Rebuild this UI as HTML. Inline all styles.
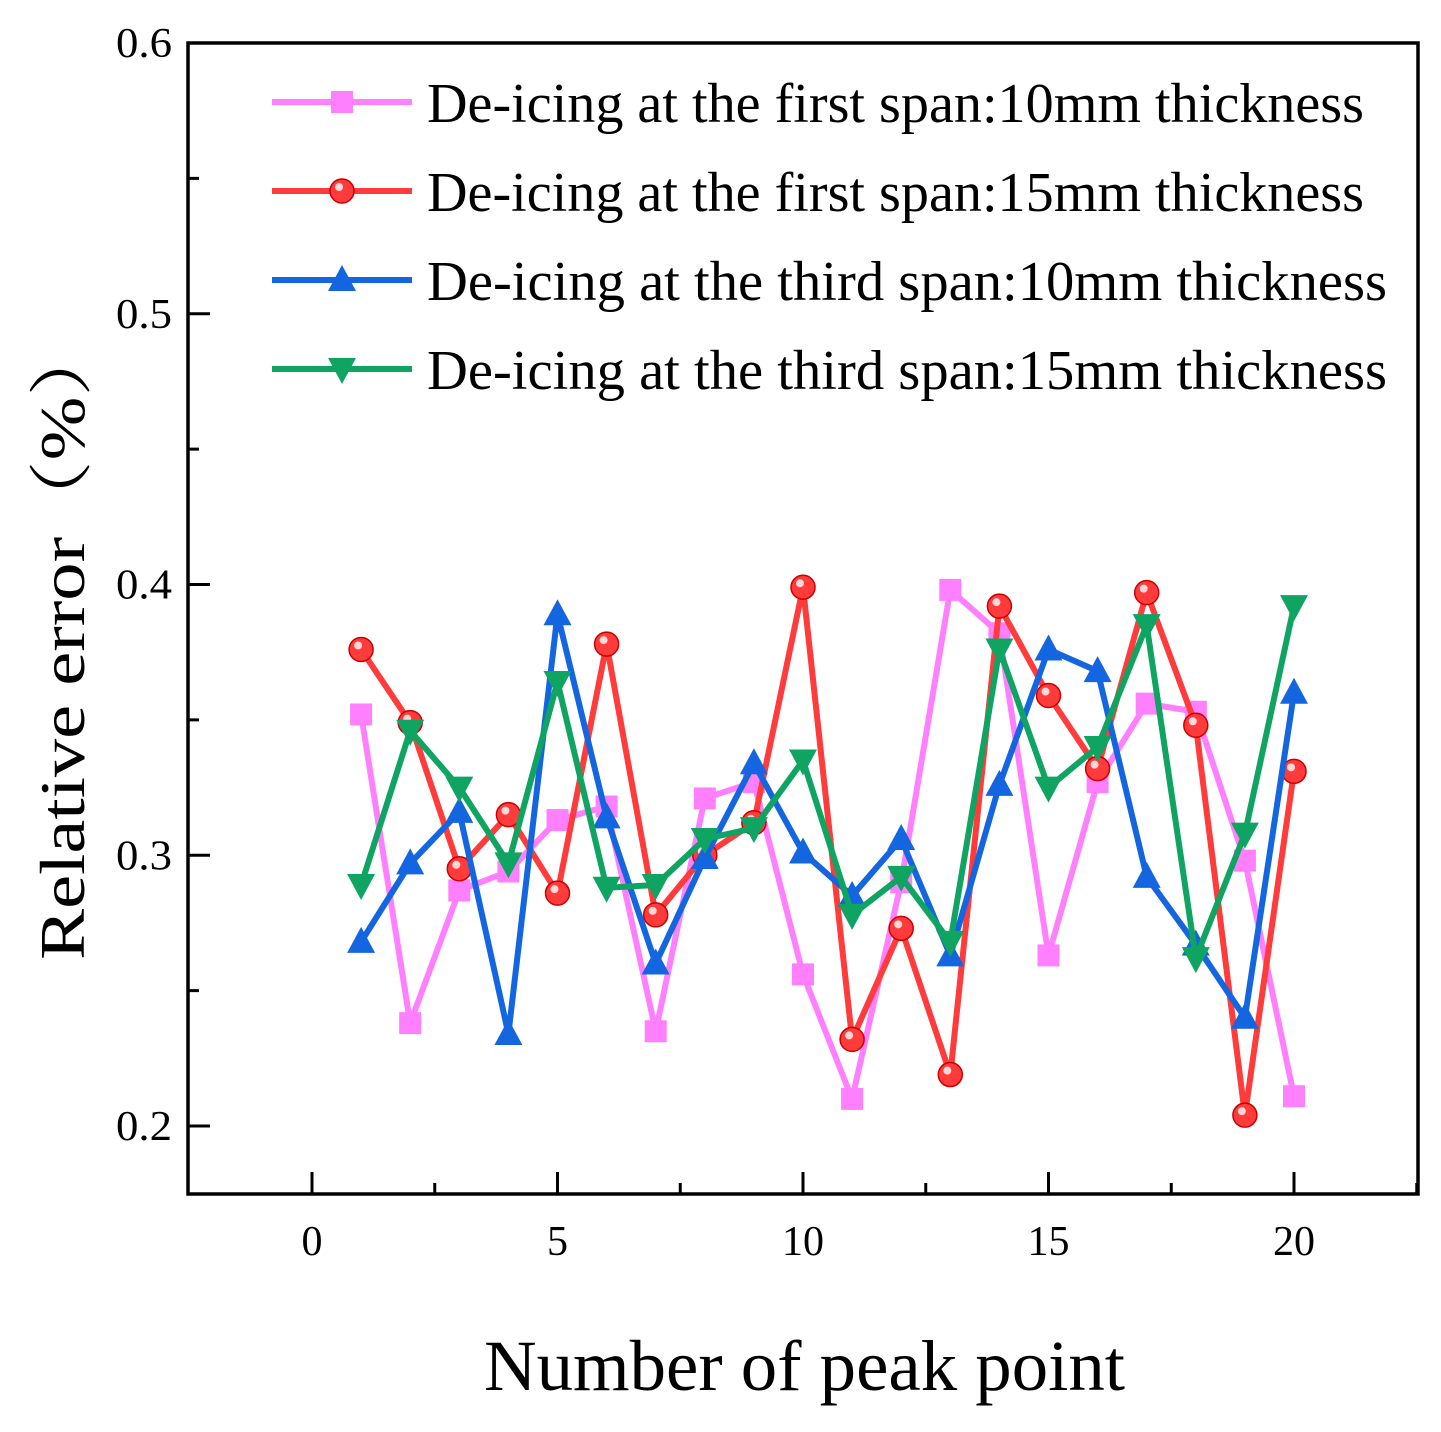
<!DOCTYPE html>
<html><head><meta charset="utf-8"><style>body{margin:0;background:#fff}svg{display:block}</style></head>
<body>
<svg id="chart" width="1441" height="1432" viewBox="0 0 1441 1432" xmlns="http://www.w3.org/2000/svg" font-family="'Liberation Serif', serif"></svg>
<script>
const xs=[1,2,3,4,5,6,7,8,9,10,11,12,13,14,15,16,17,18,19,20];
const pinkVals=[0.352,0.238,0.287,0.294,0.313,0.318,0.235,0.321,0.327,0.256,0.210,0.290,0.398,0.382,0.263,0.327,0.356,0.353,0.298,0.211];
const redVals=[0.376,0.349,0.295,0.315,0.286,0.378,0.278,0.300,0.312,0.399,0.232,0.273,0.219,0.392,0.359,0.332,0.397,0.348,0.204,0.331];
const blueVals=[0.268,0.297,0.316,0.234,0.389,0.314,0.260,0.299,0.334,0.301,0.285,0.306,0.263,0.326,0.376,0.368,0.292,0.267,0.240,0.360];
const greenVals=[0.289,0.346,0.325,0.297,0.364,0.288,0.289,0.306,0.310,0.335,0.278,0.292,0.268,0.376,0.325,0.340,0.385,0.262,0.308,0.392];
const xTicks=[0,5,10,15,20];
const yTicks=[0.2,0.3,0.4,0.5,0.6];
const legendLabels=["De-icing at the first span:10mm thickness","De-icing at the first span:15mm thickness","De-icing at the third span:10mm thickness","De-icing at the third span:15mm thickness"];

const svg=document.getElementById('chart');
const NS='http://www.w3.org/2000/svg';
const L=188,R=1418,T=43,B=1194;
const X=v=>312+(v-0)*(803-312)/10;
const Y=v=>1126-(v-0.2)*(1126-43)/0.4;
function el(tag,attrs,parent){const e=document.createElementNS(NS,tag);for(const k in attrs)e.setAttribute(k,attrs[k]);(parent||svg).appendChild(e);return e;}

for(let v=0;v<=22.5;v+=2.5){const major=Math.abs(v%5)<1e-6;const t=el('line',{x1:X(v),x2:X(v),y1:B,y2:B-(major?22:11),stroke:'#000','stroke-width':3});

}
for(let v=0.2;v<=0.6001;v+=0.05){const major=Math.abs(Math.round(v*100)%10)<1e-6;const t=el('line',{x1:L,x2:L+(major?22:11),y1:Y(v),y2:Y(v),stroke:'#000','stroke-width':3});

}
xTicks.forEach(v=>{const t=el('text',{x:X(v),y:1255,'font-size':42,'text-anchor':'middle'});t.textContent=v;

});
yTicks.forEach(v=>{const t=el('text',{x:172,y:Y(v)+14,'font-size':42,'text-anchor':'end',textLength:56,lengthAdjust:'spacingAndGlyphs'});t.textContent=v.toFixed(1);

});
const fr=el('rect',{x:L,y:T,width:R-L,height:B-T,fill:'none',stroke:'#000','stroke-width':3.5});



function marker(type,cx,cy,color,g){
  if(type==='sq') return el('rect',{x:cx-11,y:cy-11,width:22,height:22,fill:color},g);
  if(type==='c'){const c=el('circle',{cx,cy,r:12,fill:color,stroke:'#c00','stroke-width':1.5},g);el('circle',{cx:cx-3,cy:cy-4,r:4,fill:'#fff',opacity:0.8},g);return c;}
  if(type==='up') return el('polygon',{points:`${cx},${cy-15} ${cx-14},${cy+11} ${cx+14},${cy+11}`,fill:color},g);
  return el('polygon',{points:`${cx},${cy+15} ${cx-14},${cy-11} ${cx+14},${cy-11}`,fill:color},g);
}
const series=[[pinkVals,'#ff80ff','sq','series-first-span-10mm'],[redVals,'#ff3b3b','c','series-first-span-15mm'],[blueVals,'#1466e0','up','series-third-span-10mm'],[greenVals,'#10a462','down','series-third-span-15mm']];
series.forEach(([vals,color,m,name])=>{
  const g=el('g',{});
  
  
  const pl=el('polyline',{points:vals.map((v,i)=>X(xs[i])+','+Y(v)).join(' '),fill:'none',stroke:color,'stroke-width':6,'stroke-linejoin':'round'},g);
  
  
  vals.forEach((v,i)=>{const p=marker(m,X(xs[i]),Y(v),color,g);
    
    });
});
const legendWidths=[937,937,960,960];
series.forEach(([vals,color,m],i)=>{
  const y=102+i*89;
  const g=el('g',{});
  
  
  el('line',{x1:272,x2:412,y1:y,y2:y,stroke:color,'stroke-width':6},g);
  marker(m,342,y,color,g);
  const t=el('text',{x:427,y:y+20,'font-size':56,textLength:legendWidths[i],lengthAdjust:'spacingAndGlyphs'},g);t.textContent=legendLabels[i];
});
const xt=el('text',{x:484,y:1390,'font-size':72,textLength:641,lengthAdjust:'spacingAndGlyphs'});xt.textContent='Number of peak point';


const yt=el('text',{x:-960,y:84,'font-size':64,transform:'rotate(-90)',textLength:640,lengthAdjust:'spacingAndGlyphs'});yt.textContent='Relative error（%）';
yt.setAttribute('font-family',"'Liberation Serif','Noto Serif CJK SC',serif");


</script>
</body></html>
